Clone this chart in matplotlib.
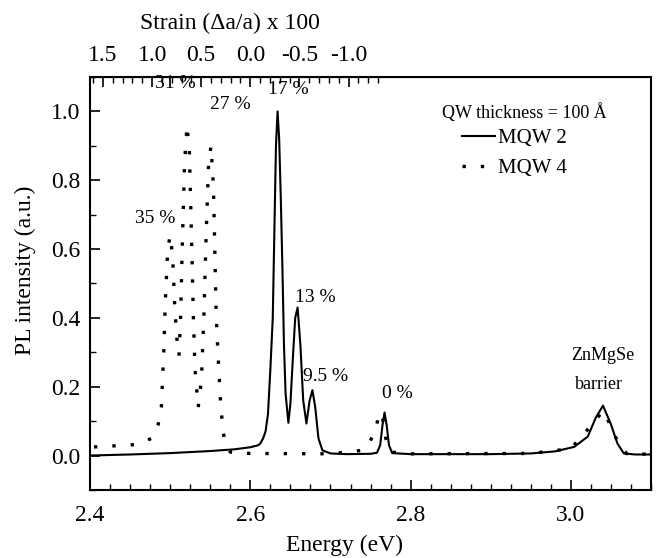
import numpy as np
import matplotlib
matplotlib.use("Agg")
import matplotlib.pyplot as plt
from matplotlib.ticker import MultipleLocator

plt.rcParams['font.family'] = ['Liberation Serif', 'DejaVu Serif']

# MQW2 (solid)
e_mqw2 = [2.400, 2.450, 2.500, 2.550, 2.580, 2.600, 2.610, 2.6125, 2.616, 2.619,
          2.622, 2.625, 2.628, 2.630, 2.632, 2.634, 2.636, 2.638, 2.640, 2.642,
          2.644, 2.6475, 2.650, 2.653, 2.656, 2.659, 2.6625, 2.666, 2.670, 2.674,
          2.6775, 2.681, 2.685, 2.690, 2.700, 2.720, 2.750, 2.758, 2.762, 2.765,
          2.7675, 2.770, 2.773, 2.777, 2.800, 2.900, 2.950, 2.980, 3.004, 3.021,
          3.031, 3.040, 3.050, 3.058, 3.066, 3.080, 3.100]
i_mqw2 = [0.000, 0.003, 0.007, 0.013, 0.018, 0.024, 0.030, 0.035, 0.050, 0.070,
          0.120, 0.250, 0.400, 0.650, 0.900, 1.000, 0.920, 0.750, 0.550, 0.320,
          0.180, 0.095, 0.150, 0.280, 0.400, 0.430, 0.320, 0.160, 0.093, 0.160,
          0.190, 0.140, 0.050, 0.015, 0.006, 0.004, 0.005, 0.008, 0.030, 0.090,
          0.125, 0.090, 0.030, 0.007, 0.004, 0.004, 0.006, 0.012, 0.025, 0.055,
          0.110, 0.145, 0.090, 0.035, 0.006, 0.003, 0.003]

# MQW4 (dotted)
e_mqw4 = [2.405, 2.430, 2.459, 2.477, 2.485, 2.489, 2.492, 2.494, 2.497, 2.500,
          2.503, 2.506, 2.509, 2.511, 2.513, 2.515, 2.518, 2.521, 2.524, 2.527,
          2.529, 2.531, 2.535, 2.539, 2.542, 2.545, 2.548, 2.551, 2.554, 2.5575,
          2.560, 2.563, 2.566, 2.569, 2.575, 2.600, 2.700, 2.740, 2.748, 2.756,
          2.761, 2.765, 2.769, 2.775, 2.800, 2.950, 3.000, 3.030, 3.040, 3.050,
          3.060, 3.070, 3.100]
i_mqw4 = [0.025, 0.028, 0.032, 0.050, 0.090, 0.140, 0.300, 0.450, 0.600, 0.640,
          0.580, 0.420, 0.320, 0.290, 0.400, 0.600, 0.850, 0.960, 0.880, 0.600,
          0.400, 0.250, 0.140, 0.220, 0.400, 0.650, 0.850, 0.900, 0.780, 0.400,
          0.280, 0.150, 0.070, 0.035, 0.010, 0.006, 0.005, 0.015, 0.035, 0.072,
          0.125, 0.110, 0.050, 0.010, 0.005, 0.006, 0.020, 0.100, 0.130, 0.085,
          0.030, 0.005, 0.004]

# peak labels
peak_text = ['35 %', '31 %', '27 %', '17 %', '13 %', '9.5 %', '0 %']
peak_x = [2.481, 2.506, 2.575, 2.647, 2.681, 2.694, 2.784]
peak_y = [0.69, 1.08, 1.02, 1.065, 0.46, 0.23, 0.18]

strain_ticks = [1.5, 1.0, 0.5, 0.0, -0.5, -1.0]
strain_labels = ['1.5', '1.0', '0.5', '0.0', '-0.5', '-1.0']


def e2s(e):
    return (2.6 - np.asarray(e)) / 0.1225


def s2e(s):
    return 2.6 - 0.1225 * np.asarray(s)


fig = plt.figure(figsize=(6.57, 5.58), dpi=100)
ax = fig.add_axes([0.137, 0.122, 0.854, 0.740])

ax.plot(e_mqw2, i_mqw2, 'k-', lw=1.5, label='MQW 2')
ax.plot(e_mqw4, i_mqw4, color='k', lw=2.4, linestyle=(0, (1.0, 4.5)), label='MQW 4')

for t, x, y in zip(peak_text, peak_x, peak_y):
    ax.text(x, y, t, fontsize=14, ha='center', va='center')
ax.text(3.04, 0.29, 'ZnMgSe', fontsize=13, ha='center', va='center')
ax.text(3.035, 0.205, 'barrier', fontsize=13, ha='center', va='center')

ax.set_xlim(2.4, 3.1)
ax.set_ylim(-0.1, 1.1)
ax.set_xticks([2.4, 2.6, 2.8, 3.0])
ax.xaxis.set_minor_locator(MultipleLocator(0.025))
ax.set_yticks([0.0, 0.2, 0.4, 0.6, 0.8, 1.0])
ax.yaxis.set_minor_locator(MultipleLocator(0.1))
ax.tick_params(which='both', direction='in', top=False, right=False, labelsize=17)
ax.tick_params(which='major', length=7, width=1.2)
ax.tick_params(which='minor', length=4, width=1)
ax.tick_params(axis='x', pad=11)
ax.tick_params(axis='y', pad=7)
for sp in ax.spines.values():
    sp.set_linewidth(1.5)

top = ax.secondary_xaxis('top', functions=(e2s, s2e))
top.set_xticks(strain_ticks, strain_labels)
top.set_xticks(np.round(np.arange(-1.3, 1.65, 0.1), 2), minor=True)
top.tick_params(which='both', direction='in', labelsize=17, pad=8)
top.tick_params(which='major', length=7, width=1.2)
top.tick_params(which='minor', length=4, width=1)

fig.text(345 / 657, 1 - 545 / 558, 'Energy (eV)', fontsize=17, ha='center', va='center')
fig.text(25 / 657, 1 - 270 / 558, 'PL intensity (a.u.)', fontsize=17,
         ha='center', va='center', rotation=90)
fig.text(230 / 657, 1 - 23 / 558, 'Strain (\u0394a/a) x 100', fontsize=17,
         ha='center', va='center')

# legend: title as its own text, entries below it
ax.text(0.9216, 0.915, 'QW thickness = 100 \u00c5', transform=ax.transAxes,
        fontsize=13, ha='right', va='center')
ax.legend(loc='upper left', bbox_to_anchor=(0.663, 0.875), frameon=False,
          fontsize=15, handlelength=1.6, handletextpad=0.15,
          labelspacing=0.5, borderpad=0, borderaxespad=0)

fig.savefig('out.png', dpi=100)
